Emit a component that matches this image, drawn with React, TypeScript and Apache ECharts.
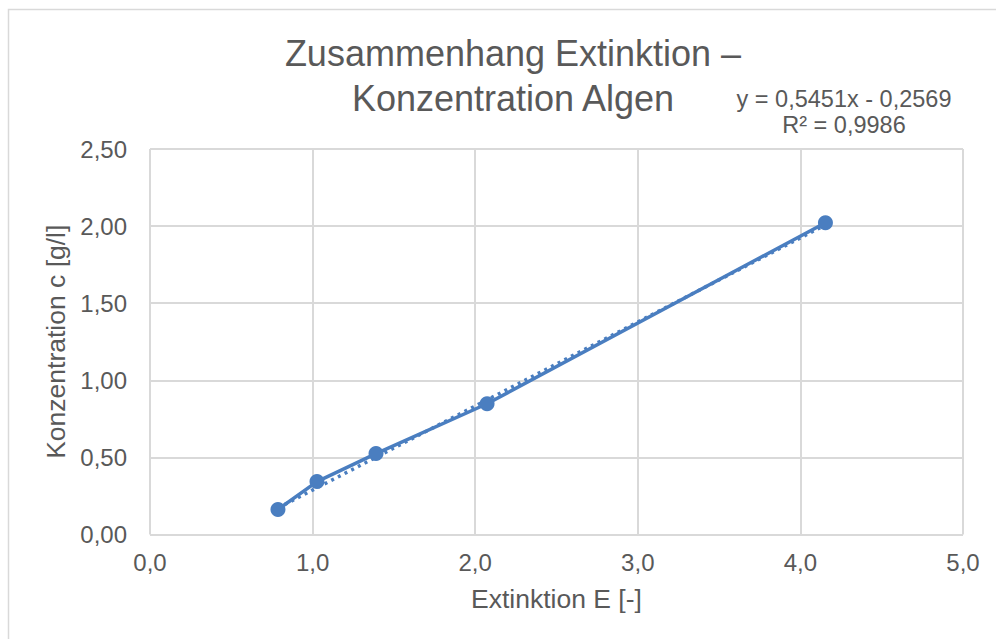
import React, { useEffect, useRef } from "react";
import * as echarts from "echarts";

const extinktion = [0.787, 1.027, 1.39, 2.073, 4.154];
const konzentration = [0.162, 0.343, 0.525, 0.848, 2.022];
const trendSlope = 0.5451;
const trendIntercept = -0.2569;
const trendLabel = ["y = 0,5451x - 0,2569", "R² = 0,9986"];
const titleLines = ["Zusammenhang Extinktion –", "Konzentration Algen"];
const xTitle = "Extinktion E [-]";
const yTitle = "Konzentration c [g/l]";

const FONT = "'Liberation Sans', Arial, sans-serif";
const TXT = "#595959";
const BLUE = "#4a7ec0";
const GRID = "#d9d9d9";

export default function App() {
  const ref = useRef<HTMLDivElement>(null);
  useEffect(() => {
    if (!ref.current) return;
    const chart = echarts.init(ref.current, undefined, { renderer: "svg" });
    const xMin = Math.min(...extinktion);
    const xMax = Math.max(...extinktion);
    const trend = [
      [xMin, trendSlope * xMin + trendIntercept],
      [xMax, trendSlope * xMax + trendIntercept],
    ];
    chart.setOption({
      animation: false,
      textStyle: { fontFamily: FONT },
      grid: { left: 150, top: 149, right: 33, bottom: 104.5, containLabel: false },
      title: {
        text: titleLines.join("\n"),
        left: 508,
        textAlign: "center",
        top: 26,
        textStyle: { fontFamily: FONT, fontSize: 36, fontWeight: "normal", color: TXT, lineHeight: 45 },
      },
      graphic: [
        {
          type: "rect",
          shape: { x: 8.5, y: 9.5, width: 1100, height: 800 },
          style: { fill: "none", stroke: GRID, lineWidth: 1.5 },
          silent: true,
        },
        {
          type: "text",
          x: 844,
          y: 112,
          style: {
            text: trendLabel.join("\n"),
            align: "center",
            verticalAlign: "middle",
            fontFamily: FONT,
            fontSize: 23.5,
            lineHeight: 26.5,
            fill: TXT,
          },
        },
      ],
      xAxis: {
        type: "value",
        min: 0,
        max: 5,
        interval: 1,
        name: xTitle,
        nameLocation: "middle",
        nameGap: 51,
        nameTextStyle: { fontFamily: FONT, fontSize: 26.5, color: TXT },
        axisLine: { show: false },
        axisTick: { show: false },
        axisLabel: {
          fontFamily: FONT,
          fontSize: 24,
          color: TXT,
          margin: 16,
          formatter: (v: number) => v.toFixed(1).replace(".", ","),
        },
        splitLine: { show: true, showMinLine: true, showMaxLine: true, lineStyle: { color: GRID, width: 2 } },
      },
      yAxis: {
        type: "value",
        min: 0,
        max: 2.5,
        interval: 0.5,
        name: yTitle,
        nameLocation: "middle",
        nameGap: 79,
        nameTextStyle: { fontFamily: FONT, fontSize: 26.5, color: TXT },
        axisLine: { show: false },
        axisTick: { show: false },
        axisLabel: {
          fontFamily: FONT,
          fontSize: 24,
          color: TXT,
          margin: 23,
          formatter: (v: number) => v.toFixed(2).replace(".", ","),
        },
        splitLine: { show: true, showMinLine: true, showMaxLine: true, lineStyle: { color: GRID, width: 2 } },
      },
      series: [
        {
          type: "line",
          data: trend,
          symbol: "none",
          lineStyle: { color: BLUE, width: 3.5, type: [3, 4.5] as any },
          silent: true,
          z: 2,
        },
        {
          type: "line",
          data: extinktion.map((x, i) => [x, konzentration[i]]),
          symbol: "circle",
          symbolSize: 15,
          itemStyle: { color: BLUE },
          lineStyle: { color: BLUE, width: 3.5 },
          z: 3,
        },
      ],
    });
    return () => chart.dispose();
  }, []);
  return (
    <div style={{ position: "fixed", left: 0, top: 0, width: 996, height: 639, overflow: "hidden", background: "#fff" }}>
      <div ref={ref} style={{ width: 996, height: 639 }} />
    </div>
  );
}
